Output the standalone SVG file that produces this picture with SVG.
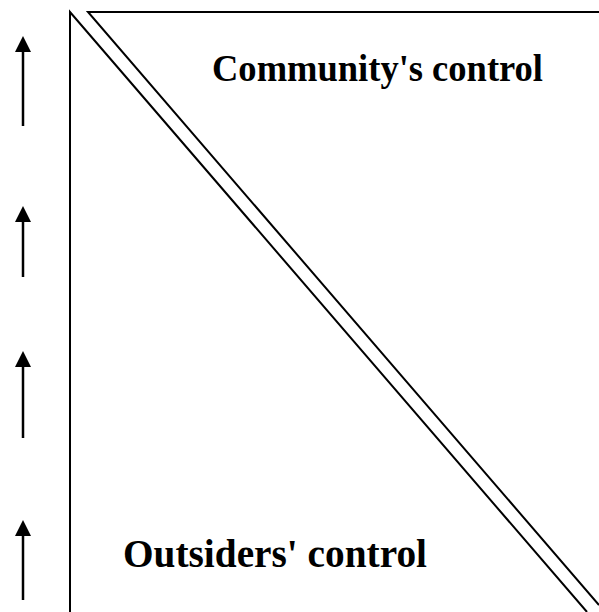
<svg xmlns="http://www.w3.org/2000/svg" width="599" height="612" viewBox="0 0 599 612">
  <defs>
    <style>
      .ln { stroke: #000; stroke-width: 2; fill: none; }
      .ar { stroke: #000; stroke-width: 2.5; fill: none; }
      .lbl { font-family: "Liberation Serif", "Times New Roman", serif; font-weight: bold; fill: #000; }
    </style>
  </defs>
  <rect width="599" height="612" fill="#fff"/>

  <!-- lower-left triangle: outsiders' control -->
  <g id="outsiders">
    <path class="ln" d="M70,612 L70,12 L587,612"/>
    <text class="lbl" x="123" y="567" font-size="39.5" textLength="304" lengthAdjust="spacingAndGlyphs">Outsiders' control</text>
  </g>

  <!-- upper-right triangle: community's control -->
  <g id="community">
    <path class="ln" d="M599,12 L88,12 L599,605"/>
    <text class="lbl" x="212" y="81" font-size="37.5" textLength="331" lengthAdjust="spacingAndGlyphs">Community's control</text>
  </g>

  <!-- upward arrows along the left edge -->
  <g id="arrows">
    <line class="ar" x1="23" y1="126" x2="23" y2="50"/>
    <path d="M15,52 L23,36 L31,52 Z"/>
    <line class="ar" x1="23" y1="277" x2="23" y2="220"/>
    <path d="M15,222 L23,206 L31,222 Z"/>
    <line class="ar" x1="23" y1="438" x2="23" y2="365"/>
    <path d="M15,367 L23,351 L31,367 Z"/>
    <line class="ar" x1="23" y1="600" x2="23" y2="534"/>
    <path d="M15,536 L23,520 L31,536 Z"/>
  </g>
</svg>
